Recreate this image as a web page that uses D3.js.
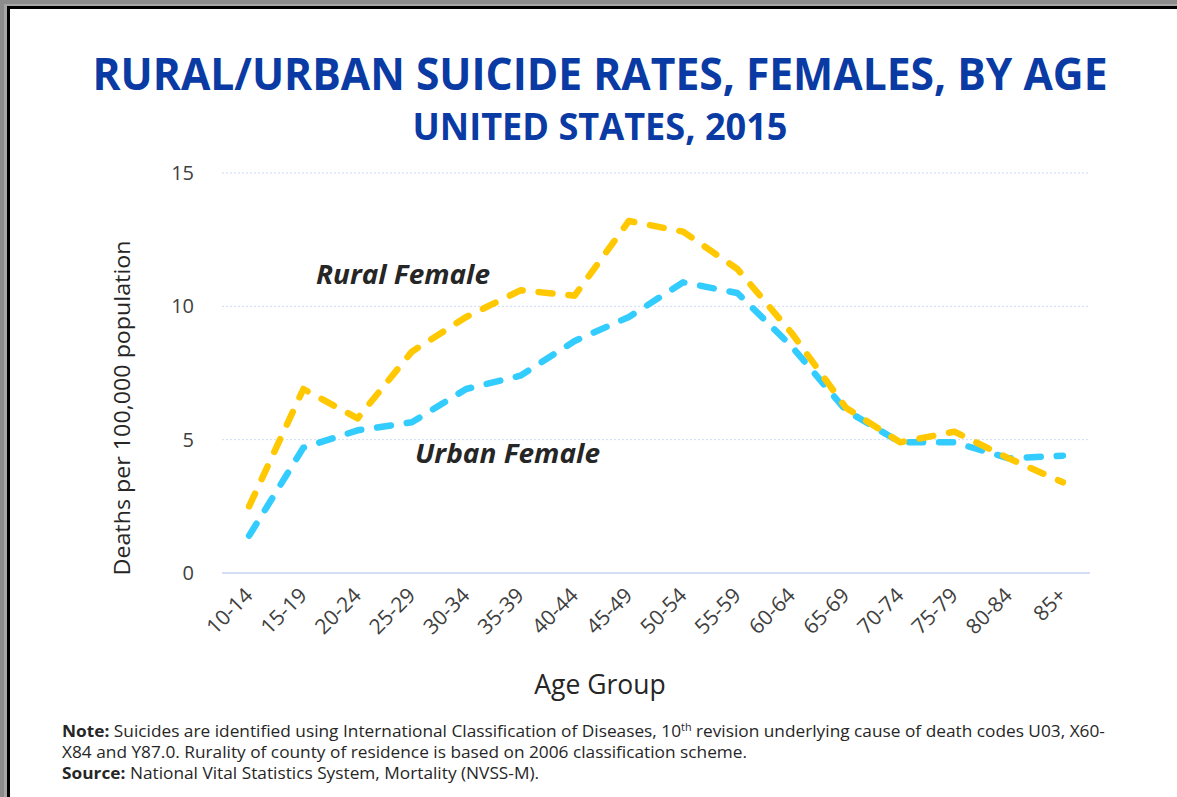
<!DOCTYPE html>
<html>
<head>
<meta charset="utf-8">
<script src="https://cdn.jsdelivr.net/npm/d3@7"></script>
<style>
  html, body { margin: 0; padding: 0; background: #fff; }
  svg { display: block; }
</style>
</head>
<body>
<svg id="chart" width="1177" height="797"></svg>
<script>
const ageGroups = ["10-14","15-19","20-24","25-29","30-34","35-39","40-44","45-49","50-54","55-59","60-64","65-69","70-74","75-79","80-84","85+"];
const ruralFemale = [2.5, 6.9, 5.8, 8.3, 9.6, 10.6, 10.4, 13.2, 12.8, 11.4, 9.0, 6.2, 4.9, 5.3, 4.3, 3.4];
const urbanFemale = [1.4, 4.7, 5.35, 5.65, 6.9, 7.4, 8.7, 9.6, 10.9, 10.5, 8.5, 6.1, 4.9, 4.9, 4.3, 4.4];
const yTicks = [0, 5, 10, 15];

const svg = d3.select("#chart");
const W = 1177, H = 797;
const FONT = "'Open Sans', sans-serif";

// frame
svg.append("rect").attr("x",0).attr("y",0).attr("width",W).attr("height",H).attr("fill","#a6a6a6");
svg.append("rect").attr("x",0).attr("y",0).attr("width",W).attr("height",4).attr("fill","#8c8c8c");
svg.append("rect").attr("x",0).attr("y",0).attr("width",4).attr("height",H).attr("fill","#8c8c8c");
svg.append("rect").attr("x",7).attr("y",6).attr("width",W).attr("height",H).attr("fill","#000");
svg.append("rect").attr("x",10).attr("y",9).attr("width",W).attr("height",H).attr("fill","#fff");

const plot = {left: 222, right: 1090, top: 173, bottom: 573};

const x = d3.scaleBand().domain(ageGroups).range([plot.left, plot.right]);
const y = d3.scaleLinear().domain([0, 15]).range([plot.bottom, plot.top]);

// gridlines
svg.append("g").selectAll("line").data(yTicks).join("line")
  .attr("x1", plot.left).attr("x2", plot.right)
  .attr("y1", d => y(d)).attr("y2", d => y(d))
  .attr("stroke", d => d === 0 ? "#c5d3f0" : "#cddcf5")
  .attr("stroke-width", d => d === 0 ? 1.5 : 1)
  .attr("stroke-dasharray", d => d === 0 ? null : "2,2");

// y axis labels
const yAxis = d3.axisLeft(y).tickValues(yTicks).tickSize(0).tickPadding(0);
const gy = svg.append("g").attr("transform", `translate(194,0)`).call(yAxis);
gy.select(".domain").remove();
gy.selectAll("text").attr("font-family", FONT).attr("font-size", 20).attr("fill", "#404040").attr("dy", "0.32em");

// x axis labels
const xAxis = d3.axisBottom(x).tickSize(0).tickPadding(0);
const gx = svg.append("g").attr("transform", `translate(0,${plot.bottom})`).call(xAxis);
gx.select(".domain").remove();
gx.selectAll("text")
  .attr("font-family", FONT).attr("font-size", 21).attr("fill", "#404040")
  .attr("text-anchor", "end")
  .attr("transform", "translate(0,19) rotate(-45)")
  .attr("dy", "0.32em").attr("y", 0);

// axis titles
svg.append("text").attr("x", 600).attr("y", 694).attr("text-anchor", "middle")
  .attr("font-family", FONT).attr("font-size", 26.5).attr("fill", "#262626").text("Age Group");
svg.append("text").attr("transform", "translate(130,408) rotate(-90)").attr("text-anchor", "middle")
  .attr("font-family", FONT).attr("font-size", 21.5).attr("fill", "#262626")
  .attr("textLength", 335).attr("lengthAdjust", "spacingAndGlyphs")
  .text("Deaths per 100,000 population");

// titles
svg.append("text").attr("x", 600).attr("y", 90).attr("text-anchor", "middle")
  .attr("font-family", FONT).attr("font-weight", 700).attr("font-size", 44)
  .attr("textLength", 1015).attr("lengthAdjust", "spacingAndGlyphs")
  .attr("fill", "#0a3aa3").text("RURAL/URBAN SUICIDE RATES, FEMALES, BY AGE");
svg.append("text").attr("x", 600).attr("y", 140).attr("text-anchor", "middle")
  .attr("font-family", FONT).attr("font-weight", 700).attr("font-size", 37)
  .attr("textLength", 375).attr("lengthAdjust", "spacingAndGlyphs")
  .attr("fill", "#0a3aa3").text("UNITED STATES, 2015");

// lines
const line = d3.line().x((d, i) => x(ageGroups[i]) + x.bandwidth() / 2).y(d => y(d)).curve(d3.curveLinear);
const series = [
  {name: "Urban Female", values: urbanFemale, color: "#33ccff"},
  {name: "Rural Female", values: ruralFemale, color: "#ffc800"}
];
svg.append("g").selectAll("path").data(series).join("path")
  .attr("d", d => line(d.values))
  .attr("fill", "none").attr("stroke", d => d.color).attr("stroke-width", 6.5)
  .attr("stroke-linecap", "round").attr("stroke-linejoin", "round")
  .attr("stroke-dasharray", "14,16");

// series labels
svg.append("text").attr("x", 316).attr("y", 284)
  .attr("font-family", FONT).attr("font-weight", 700).attr("font-style", "italic")
  .attr("font-size", 27.5).attr("fill", "#262626")
  .attr("textLength", 174).attr("lengthAdjust", "spacingAndGlyphs").text("Rural Female");
svg.append("text").attr("x", 415).attr("y", 463)
  .attr("font-family", FONT).attr("font-weight", 700).attr("font-style", "italic")
  .attr("font-size", 27.5).attr("fill", "#262626")
  .attr("textLength", 185).attr("lengthAdjust", "spacingAndGlyphs").text("Urban Female");

// notes
const notes = svg.append("g").attr("transform", "translate(62,0) scale(1.08,1)")
  .attr("font-family", FONT).attr("font-size", 16).attr("fill", "#262626");
const n1 = notes.append("text").attr("x", 0).attr("y", 737);
n1.append("tspan").attr("font-weight", 700).text("Note:");
n1.append("tspan").text(" Suicides are identified using International Classification of Diseases, 10");
n1.append("tspan").attr("font-size", 10).attr("dy", -6).text("th");
n1.append("tspan").attr("dy", 6).text(" revision underlying cause of death codes U03, X60-");
notes.append("text").attr("x", 0).attr("y", 758).text("X84 and Y87.0. Rurality of county of residence is based on 2006 classification scheme.");
const n3 = notes.append("text").attr("x", 0).attr("y", 779);
n3.append("tspan").attr("font-weight", 700).text("Source:");
n3.append("tspan").text(" National Vital Statistics System, Mortality (NVSS-M).");
</script>
</body>
</html>
